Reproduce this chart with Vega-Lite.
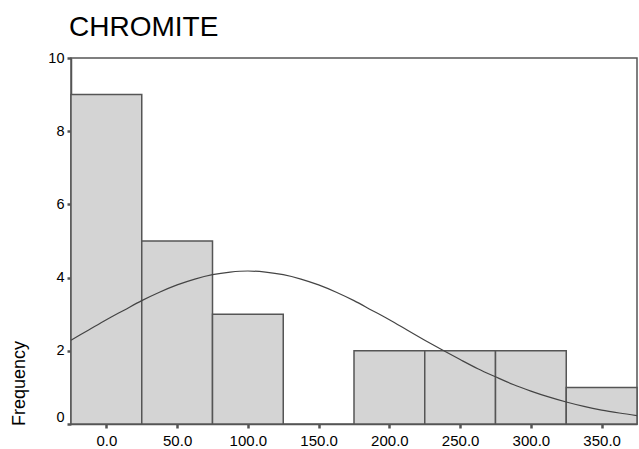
{
  "$schema": "https://vega.github.io/schema/vega-lite/v6.json",
  "autosize": {"type": "none"},
  "width": 566,
  "height": 366,
  "padding": {"left": 71, "top": 58, "right": 2, "bottom": 25},
  "background": "white",
  "config": {
    "font": "Liberation Sans",
    "view": {"stroke": "#555555", "strokeWidth": 1.5},
    "axis": {"grid": false, "domainColor": "#555555", "domainWidth": 1.5, "tickColor": "#555555", "labelColor": "#000000", "labelFont": "Liberation Sans", "titleFont": "Liberation Sans", "titleFontWeight": "normal", "titleColor": "#000000"}
  },
  "title": {"text": "CHROMITE", "anchor": "start", "frame": "group", "fontSize": 28, "fontWeight": "normal", "font": "Liberation Sans", "color": "#000000", "offset": 8, "dx": -2},
  "datasets": {
    "bars": [
      {"binStart": -25, "binEnd": 25, "count": 9},
      {"binStart": 25, "binEnd": 75, "count": 5},
      {"binStart": 75, "binEnd": 125, "count": 3},
      {"binStart": 175, "binEnd": 225, "count": 2},
      {"binStart": 225, "binEnd": 275, "count": 2},
      {"binStart": 275, "binEnd": 325, "count": 2},
      {"binStart": 325, "binEnd": 375, "count": 1}
    ],
    "curve": [
      {"x": -25, "y": 2.29}, {"x": -12.5, "y": 2.57}, {"x": 0, "y": 2.85}, {"x": 12.5, "y": 3.11},
      {"x": 25, "y": 3.37}, {"x": 37.5, "y": 3.6}, {"x": 50, "y": 3.8}, {"x": 62.5, "y": 3.96},
      {"x": 75, "y": 4.08}, {"x": 87.5, "y": 4.15}, {"x": 100, "y": 4.18}, {"x": 112.5, "y": 4.15},
      {"x": 125, "y": 4.08}, {"x": 137.5, "y": 3.96}, {"x": 150, "y": 3.8}, {"x": 162.5, "y": 3.6},
      {"x": 175, "y": 3.37}, {"x": 187.5, "y": 3.11}, {"x": 200, "y": 2.85}, {"x": 212.5, "y": 2.57},
      {"x": 225, "y": 2.29}, {"x": 237.5, "y": 2.02}, {"x": 250, "y": 1.76}, {"x": 262.5, "y": 1.51},
      {"x": 275, "y": 1.29}, {"x": 287.5, "y": 1.08}, {"x": 300, "y": 0.9}, {"x": 312.5, "y": 0.74},
      {"x": 325, "y": 0.6}, {"x": 337.5, "y": 0.48}, {"x": 350, "y": 0.38}, {"x": 362.5, "y": 0.3},
      {"x": 375, "y": 0.23}
    ]
  },
  "layer": [
    {
      "data": {"name": "bars"},
      "mark": {"type": "rect", "fill": "#d4d4d4", "stroke": "#555555", "strokeWidth": 1.5},
      "encoding": {
        "x": {"field": "binStart", "type": "quantitative", "scale": {"domain": [-25, 375], "nice": false, "zero": false},
              "axis": {"title": null, "values": [0, 50, 100, 150, 200, 250, 300, 350], "format": ".1f", "labelFontSize": 15, "tickSize": 4, "tickWidth": 2.5, "labelPadding": 5}},
        "x2": {"field": "binEnd"},
        "y": {"field": "count", "type": "quantitative", "scale": {"domain": [0, 10], "nice": false},
              "axis": {"title": "Frequency", "titleFontSize": 18, "titleX": -43, "titleY": 325, "titleAngle": -90, "titleBaseline": "bottom", "values": [0, 2, 4, 6, 8, 10], "labelFontSize": 14.5, "tickSize": 4, "tickWidth": 2.5, "labelPadding": 3,
                       "labelBaseline": {"condition": {"test": "datum.value === 0", "value": "bottom"}, "value": "middle"}}},
        "y2": {"datum": 0}
      }
    },
    {
      "data": {"name": "curve"},
      "mark": {"type": "line", "stroke": "#444444", "strokeWidth": 1.2, "interpolate": "monotone"},
      "encoding": {
        "x": {"field": "x", "type": "quantitative"},
        "y": {"field": "y", "type": "quantitative"}
      }
    }
  ]
}
